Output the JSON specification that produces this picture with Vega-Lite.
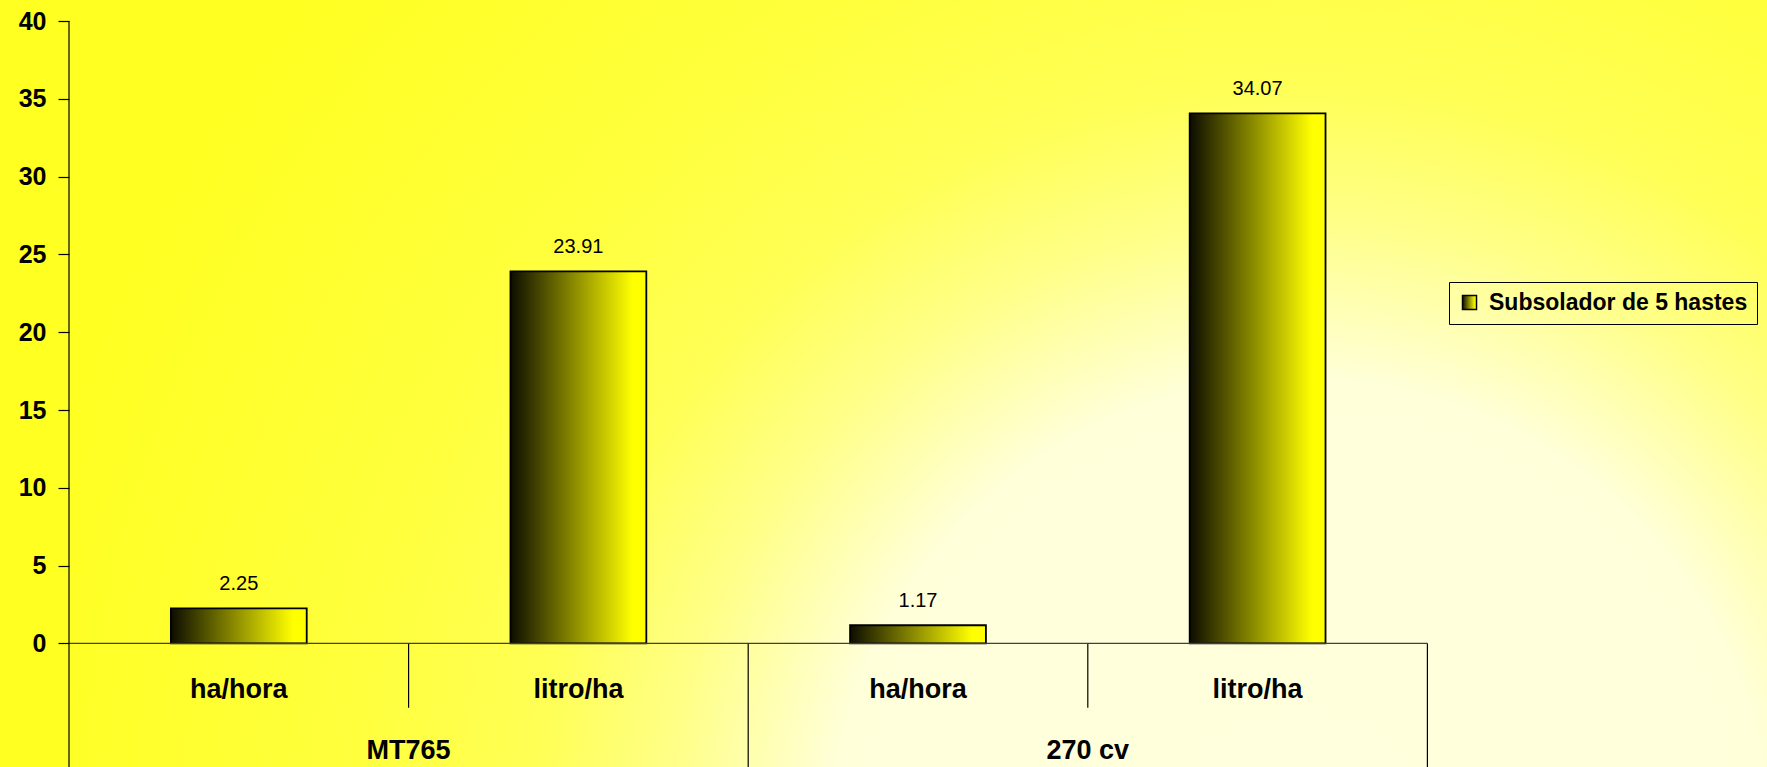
{
  "$schema": "https://vega.github.io/schema/vega-lite/v6.json",
  "width": 1698,
  "height": 767,
  "autosize": {"type": "none"},
  "padding": {"left": 69, "top": 0, "right": 0, "bottom": 0},
  "background": "#FFFF22",
  "view": {
    "stroke": null,
    "fill": {
      "gradient": "radial",
      "x1": 0.725, "y1": 0.7747, "r1": 0,
      "x2": 0.725, "y2": 0.7747, "r2": 0.766,
      "stops": [
        {"offset": 0, "color": "#FFFFDD"},
        {"offset": 0.36, "color": "#FFFFDA"},
        {"offset": 0.485, "color": "#FFFF88"},
        {"offset": 0.59, "color": "#FFFF55"},
        {"offset": 0.74, "color": "#FFFF3C"},
        {"offset": 1, "color": "#FFFF22"}
      ]
    }
  },
  "data": {
    "values": [
      {"id": "MT765 ha/hora", "grupo": "MT765", "medida": "ha/hora", "valor": 2.25},
      {"id": "MT765 litro/ha", "grupo": "MT765", "medida": "litro/ha", "valor": 23.91},
      {"id": "270 cv ha/hora", "grupo": "270 cv", "medida": "ha/hora", "valor": 1.17},
      {"id": "270 cv litro/ha", "grupo": "270 cv", "medida": "litro/ha", "valor": 34.07}
    ]
  },
  "layer": [
    {
      "mark": {"type": "bar", "width": {"band": 0.4}, "strokeWidth": 1.8,
               "fill": {"gradient": "linear", "x1": 0, "y1": 0, "x2": 1, "y2": 0,
                        "stops": [{"offset": 0, "color": "#0d0d00"}, {"offset": 0.9, "color": "#ffff00"}, {"offset": 1, "color": "#ffff00"}]}},
      "encoding": {
        "x": {"field": "id", "type": "nominal", "axis": null,
              "scale": {"domain": ["MT765 ha/hora", "MT765 litro/ha", "270 cv ha/hora", "270 cv litro/ha", "fim"], "paddingInner": 0, "paddingOuter": 0}},
        "y": {"field": "valor", "type": "quantitative",
              "scale": {"domain": [-7.94, 41.35], "nice": false, "zero": false},
              "axis": {"values": [0, 5, 10, 15, 20, 25, 30, 35, 40], "title": null, "grid": false, "domain": false,
                       "tickColor": "#000000", "tickSize": 11, "tickWidth": 1.2,
                       "labelPadding": 12, "labelFont": "Liberation Sans", "labelFontWeight": "bold", "labelFontSize": 25,
                       "labelColor": "#000000", "labelFlush": false, "labelOverlap": false}},
        "stroke": {"datum": "Subsolador de 5 hastes", "type": "nominal",
                  "scale": {"range": ["#000000"]},
                  "legend": {"title": null, "orient": "none", "legendX": 1380, "legendY": 282,
                             "strokeColor": "#000000", "padding": 9, "symbolType": "square", "symbolSize": 196,
                             "symbolStrokeWidth": 1.5, "symbolOpacity": 1,
                             "labelFont": "Liberation Sans", "labelFontWeight": "bold", "labelFontSize": 23,
                             "labelColor": "#000000", "labelOffset": 8, "labelLimit": 0,
                             "encode": {"symbols": {"update": {
                               "fill": {"value": {"gradient": "linear", "x1": 0, "y1": 0, "x2": 1, "y2": 0,
                                 "stops": [{"offset": 0, "color": "#0d0d00"}, {"offset": 0.9, "color": "#ffff00"}, {"offset": 1, "color": "#ffff00"}]}},
                               "fillOpacity": {"value": 1},
                               "stroke": {"value": "#000000"},
                               "strokeWidth": {"value": 1.5}}}}}}
      }
    },
    {
      "mark": {"type": "bar", "width": {"band": 1}, "filled": false, "stroke": "#404040", "strokeWidth": 1.2},
      "encoding": {
        "x": {"field": "id", "type": "nominal", "axis": null,
              "scale": {"domain": ["MT765 ha/hora", "MT765 litro/ha", "270 cv ha/hora", "270 cv litro/ha", "fim"], "paddingInner": 0, "paddingOuter": 0}},
        "y": {"datum": 0, "type": "quantitative"},
        "y2": {"datum": 0}
      }
    },
    {
      "mark": {"type": "text", "baseline": "alphabetic", "dy": -18, "font": "Liberation Sans", "fontSize": 20, "color": "#000000"},
      "encoding": {
        "x": {"field": "id", "type": "nominal", "axis": null,
              "scale": {"domain": ["MT765 ha/hora", "MT765 litro/ha", "270 cv ha/hora", "270 cv litro/ha", "fim"], "paddingInner": 0, "paddingOuter": 0}},
        "y": {"field": "valor", "type": "quantitative"},
        "text": {"field": "valor", "type": "quantitative", "format": ".2f"}
      }
    },
    {
      "mark": {"type": "text", "baseline": "middle", "font": "Liberation Sans", "fontWeight": "bold", "fontSize": 27, "color": "#000000"},
      "encoding": {
        "x": {"field": "id", "type": "nominal", "axis": null,
              "scale": {"domain": ["MT765 ha/hora", "MT765 litro/ha", "270 cv ha/hora", "270 cv litro/ha", "fim"], "paddingInner": 0, "paddingOuter": 0}},
        "y": {"datum": -3, "type": "quantitative"},
        "text": {"field": "medida", "type": "nominal"}
      }
    },
    {
      "transform": [{"filter": "datum.medida == 'litro/ha'"}],
      "mark": {"type": "text", "baseline": "middle", "font": "Liberation Sans", "fontWeight": "bold", "fontSize": 27, "color": "#000000"},
      "encoding": {
        "x": {"field": "id", "type": "nominal", "axis": null, "bandPosition": 0,
              "scale": {"domain": ["MT765 ha/hora", "MT765 litro/ha", "270 cv ha/hora", "270 cv litro/ha", "fim"], "paddingInner": 0, "paddingOuter": 0}},
        "y": {"datum": -6.9, "type": "quantitative"},
        "text": {"field": "grupo", "type": "nominal"}
      }
    },
    {
      "transform": [{"filter": "datum.medida == 'litro/ha'"}],
      "mark": {"type": "rule", "color": "#000000", "strokeWidth": 1.2},
      "encoding": {
        "x": {"field": "id", "type": "nominal", "axis": null, "bandPosition": 0,
              "scale": {"domain": ["MT765 ha/hora", "MT765 litro/ha", "270 cv ha/hora", "270 cv litro/ha", "fim"], "paddingInner": 0, "paddingOuter": 0}},
        "y": {"datum": 0, "type": "quantitative"},
        "y2": {"datum": -4.13}
      }
    },
    {
      "transform": [{"filter": "datum.id == '270 cv ha/hora'"}],
      "mark": {"type": "rule", "color": "#000000", "strokeWidth": 1.2},
      "encoding": {
        "x": {"field": "id", "type": "nominal", "axis": null, "bandPosition": 0,
              "scale": {"domain": ["MT765 ha/hora", "MT765 litro/ha", "270 cv ha/hora", "270 cv litro/ha", "fim"], "paddingInner": 0, "paddingOuter": 0}},
        "y": {"datum": 0, "type": "quantitative"},
        "y2": {"datum": -7.94}
      }
    },
    {
      "transform": [{"filter": "datum.id == 'MT765 ha/hora'"}],
      "mark": {"type": "rule", "color": "#000000", "strokeWidth": 1.2},
      "encoding": {
        "x": {"field": "id", "type": "nominal", "axis": null, "bandPosition": 0,
              "scale": {"domain": ["MT765 ha/hora", "MT765 litro/ha", "270 cv ha/hora", "270 cv litro/ha", "fim"], "paddingInner": 0, "paddingOuter": 0}},
        "y": {"datum": 40, "type": "quantitative"},
        "y2": {"datum": -7.94}
      }
    },
    {
      "transform": [{"filter": "datum.id == '270 cv litro/ha'"}],
      "mark": {"type": "rule", "color": "#000000", "strokeWidth": 1.2},
      "encoding": {
        "x": {"field": "id", "type": "nominal", "axis": null, "bandPosition": 1,
              "scale": {"domain": ["MT765 ha/hora", "MT765 litro/ha", "270 cv ha/hora", "270 cv litro/ha", "fim"], "paddingInner": 0, "paddingOuter": 0}},
        "y": {"datum": 0, "type": "quantitative"},
        "y2": {"datum": -7.94}
      }
    }
  ]
}
